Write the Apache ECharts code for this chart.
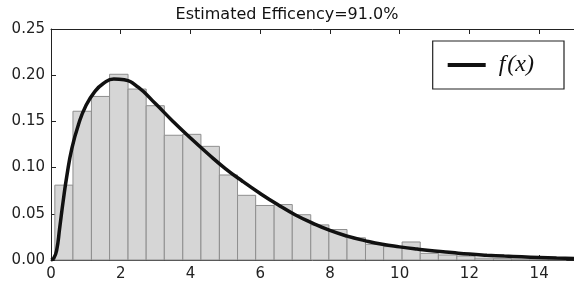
<!DOCTYPE html>
<html>
<head>
<meta charset="utf-8">
<script src="https://cdn.jsdelivr.net/npm/echarts@6/dist/echarts.min.js"></script>
<style>
  html, body { margin: 0; padding: 0; background: #fff; }
  #main { width: 574px; height: 289px; }
</style>
</head>
<body>
<div id="main"></div>
<script>
// histogram bin edges
var binEdges = [0.11, 0.63, 1.16, 1.68, 2.21, 2.73, 3.25, 3.78, 4.30, 4.83,
    5.35, 5.87, 6.40, 6.92, 7.45, 7.97, 8.49, 9.02, 9.54, 10.07,
    10.59, 11.11, 11.64, 12.16, 12.69, 13.21, 13.73, 14.26, 14.78];
// bar heights (density)
var binHeights = [0.081, 0.161, 0.177, 0.201, 0.185, 0.167, 0.135, 0.136, 0.123, 0.092,
    0.070, 0.059, 0.060, 0.049, 0.038, 0.033, 0.024, 0.017, 0.0145, 0.0195,
    0.0072, 0.0054, 0.0043, 0.002, 0.0015, 0.001, 0.001, 0.0008];

// fitted curve f(x)
var curveX = [0, 0.08, 0.16, 0.25, 0.35, 0.45, 0.6, 0.8, 1.0, 1.25, 1.5, 1.8,
    2.1, 2.5, 3.0, 3.5, 4.0, 4.5, 5.0, 5.5, 6.0, 6.5, 7.0, 7.5, 8.0, 8.5,
    9.0, 9.5, 10, 10.5, 11, 11.5, 12, 12.5, 13, 13.5, 14, 14.5, 15];
var curveY = [0, 0.002, 0.010, 0.035, 0.064, 0.090, 0.121, 0.148, 0.167, 0.182, 0.191, 0.196,
    0.195, 0.187, 0.169, 0.150, 0.132, 0.115, 0.099, 0.085, 0.072, 0.060, 0.049, 0.040, 0.032, 0.0258,
    0.021, 0.017, 0.0142, 0.0118, 0.0097, 0.0080, 0.0064, 0.0052, 0.0042, 0.0034, 0.0027, 0.0021, 0.0017];

var xTicks = [0, 15, 2];          // min, max, interval
var yTicks = [0, 0.25, 0.05];

var histData = [];
for (var i = 0; i < binHeights.length; i++) {
    histData.push([binEdges[i], binEdges[i + 1], binHeights[i]]);
}
var curveData = [];
for (var j = 0; j < curveX.length; j++) {
    curveData.push([curveX[j], curveY[j]]);
}

var chart = echarts.init(document.getElementById('main'));
var axisCol = '#222';
var tickFont = { fontFamily: 'DejaVu Sans', fontSize: 15, color: '#222' };

option = {
    animation: false,
    title: {
        text: 'Estimated Efficency=91.0%',
        left: 'center',
        top: 2,
        textStyle: { fontFamily: 'DejaVu Sans', fontSize: 16, fontWeight: 'normal', color: '#111' }
    },
    legend: {
        data: ['f(x)'],
        right: 10,
        top: 41,
        icon: 'rect',
        itemWidth: 38,
        itemHeight: 4,
        borderColor: '#222',
        borderWidth: 1.2,
        padding: [12, 30, 12, 15],
        itemStyle: { color: '#111' },
        formatter: function () { return 'f\u200a(x)'; },
        textStyle: {
            fontFamily: 'Liberation Serif',
            fontStyle: 'italic',
            fontSize: 24,
            color: '#111',
            padding: [0, 0, 0, 8]
        }
    },
    grid: { left: 51, top: 29, width: 525, height: 231 },
    xAxis: [
        {
            type: 'value',
            min: xTicks[0], max: xTicks[1], interval: xTicks[2],
            axisLine: { lineStyle: { color: axisCol, width: 1 } },
            axisTick: { inside: true, length: 5, lineStyle: { color: axisCol } },
            axisLabel: Object.assign({ margin: 7, showMaxLabel: false }, tickFont),
            splitLine: { show: false }
        },
        {
            type: 'value', position: 'top',
            min: xTicks[0], max: xTicks[1], interval: xTicks[2],
            axisLine: { lineStyle: { color: axisCol, width: 1 } },
            axisTick: { inside: true, length: 5, lineStyle: { color: axisCol } },
            axisLabel: { show: false },
            splitLine: { show: false }
        }
    ],
    yAxis: {
        type: 'value',
        min: yTicks[0], max: yTicks[1], interval: yTicks[2],
        axisLine: { show: true, lineStyle: { color: axisCol, width: 1 } },
        axisTick: { show: true, inside: true, length: 5, lineStyle: { color: axisCol } },
        axisLabel: Object.assign({
            margin: 6,
            formatter: function (v) { return v.toFixed(2); }
        }, tickFont),
        splitLine: { show: false }
    },
    series: [
        {
            name: 'hist',
            type: 'custom',
            xAxisIndex: 0,
            encode: { x: [0, 1], y: 2 },
            data: histData,
            z: 1,
            renderItem: function (params, api) {
                var p0 = api.coord([api.value(0), api.value(2)]);
                var p1 = api.coord([api.value(1), 0]);
                return {
                    type: 'rect',
                    shape: { x: p0[0], y: p0[1], width: p1[0] - p0[0], height: p1[1] - p0[1] },
                    style: { fill: '#d6d6d6', stroke: '#8f8f8f', lineWidth: 1 }
                };
            }
        },
        {
            name: 'f(x)',
            type: 'line',
            xAxisIndex: 0,
            data: curveData,
            symbol: 'none',
            smooth: 0.5,
            z: 3,
            lineStyle: { color: '#111', width: 3.5 },
            itemStyle: { color: '#111' }
        }
    ]
};
chart.setOption(option);
</script>
</body>
</html>
